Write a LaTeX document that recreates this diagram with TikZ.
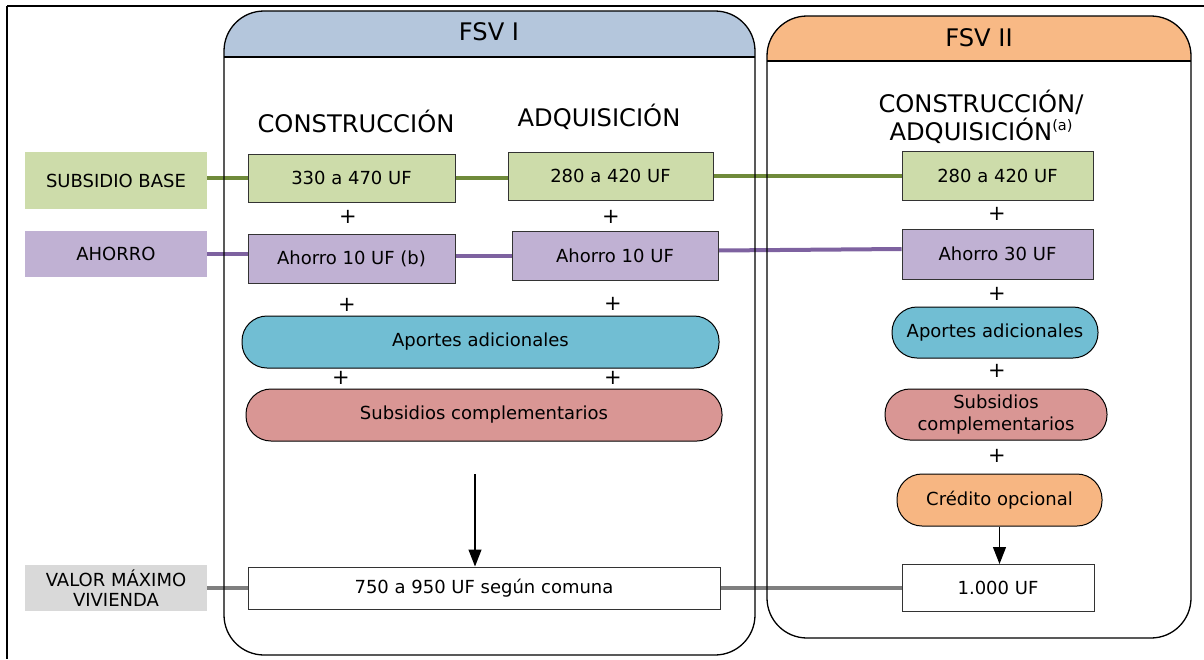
\documentclass[tikz,border=0pt]{standalone}
\usepackage{fontspec}
\setmainfont{DejaVu Sans}
\usetikzlibrary{arrows.meta,backgrounds}
\definecolor{hdrI}{HTML}{B4C6DC}
\definecolor{hdrII}{HTML}{F8B985}
\definecolor{gbox}{HTML}{CDDCAA}
\definecolor{pbox}{HTML}{C0B1D3}
\definecolor{abox}{HTML}{71BED3}
\definecolor{sbox}{HTML}{D99694}
\definecolor{obox}{HTML}{F7B682}
\definecolor{vbox}{HTML}{D9D9D9}
\definecolor{gline}{HTML}{6F8A3A}
\definecolor{pline}{HTML}{7E62A0}
\definecolor{vline}{HTML}{7F7F7F}
\tikzset{
  body/.style={font=\fontsize{18}{21}\selectfont},
  sq/.style={body, draw=black!80, line width=1pt, inner sep=0pt, align=center},
  pill/.style={sq, draw=black, rounded corners=25pt},
  lbl/.style={body, inner sep=0pt, align=center},
  conn/.style={line width=4pt},
  plus/.style={font=\fontsize{21}{24}\selectfont, inner sep=0pt},
  head/.style={font=\fontsize{24.2}{28.5}\selectfont, align=center, inner sep=0pt},
  panel/.style={line width=1.3pt, rounded corners=40pt},
  arr/.style={line width=1.2pt, -{Triangle[length=17pt,width=13pt]}},
}
\begin{document}
\begin{tikzpicture}[x=1pt,y=-1pt]
\useasboundingbox (0,0) rectangle (1204,659);
% outer frame
\coordinate (ftl) at (7,6);
\coordinate (ftr) at (1204,6);
\coordinate (fbl) at (7,659);
\draw[line width=2.5pt] (ftl) -- (ftr);
\draw[line width=2pt] (ftl) -- (fbl);
% panel headers
\begin{scope}
  \clip[rounded corners=40pt] (224,11) rectangle (755,655);
  \fill[hdrI] (224,11) rectangle (755,57);
\end{scope}
\begin{scope}
  \clip[rounded corners=40pt] (767,16) rectangle (1191,638);
  \fill[hdrII] (767,16) rectangle (1191,61);
\end{scope}
\draw[line width=1.3pt] (224,57) -- (755,57);
\draw[line width=1.3pt] (767,61) -- (1191,61);
\node[head] (tI) at (489,32) {FSV I};
\node[head] (tII) at (979,38) {FSV II};
% headings
\node[head] (hc) at (356,121) {CONSTRUCCIÓN};
\node[head] (ha) at (599,117) {ADQUISICIÓN};
\node[head] (hf) at (981,117) {CONSTRUCCIÓN/\\ADQUISICIÓN\raisebox{0.75ex}{\fontsize{14.5}{14.5}\selectfont (a)}};
% left labels
\node[lbl, fill=gbox, minimum width=182pt, minimum height=57pt] (sb) at (116,180.5) {SUBSIDIO BASE};
\node[lbl, fill=pbox, minimum width=182pt, minimum height=46pt] (ah) at (116,254) {AHORRO};
\node[lbl, fill=vbox, minimum width=182pt, minimum height=46pt, font=\fontsize{18}{20}\selectfont] (vm) at (116,588) {VALOR MÁXIMO\\VIVIENDA};
% FSV I boxes
\node[sq, fill=gbox, minimum width=207pt, minimum height=48pt] (c1) at (351.5,178) {330 a 470 UF};
\node[sq, fill=pbox, minimum width=207pt, minimum height=49pt] (c2) at (351.5,258.5) {Ahorro 10 UF (b)};
\node[sq, fill=gbox, minimum width=205pt, minimum height=48pt] (a1) at (610.5,176) {280 a 420 UF};
\node[sq, fill=pbox, minimum width=206pt, minimum height=49pt] (a2) at (615,255.5) {Ahorro 10 UF};
\node[pill, fill=abox, minimum width=477pt, minimum height=52pt] (ap1) at (480.5,342) {Aportes adicionales};
\node[pill, fill=sbox, minimum width=476pt, minimum height=52pt] (sc1) at (484,415) {Subsidios complementarios};
\node[sq, fill=white, minimum width=472pt, minimum height=42pt] (v1) at (484,588) {750 a 950 UF según comuna};
% FSV II boxes
\node[sq, fill=gbox, minimum width=191pt, minimum height=49pt] (f1) at (997.5,176) {280 a 420 UF};
\node[sq, fill=pbox, minimum width=191pt, minimum height=50pt] (f2) at (997.5,254) {Ahorro 30 UF};
\node[pill, fill=abox, minimum width=206pt, minimum height=51pt] (ap2) at (995,332.5) {Aportes adicionales};
\node[pill, fill=sbox, minimum width=222pt, minimum height=51pt, font=\fontsize{18}{22}\selectfont] (sc2) at (996,414.5) {Subsidios\\complementarios};
\node[pill, fill=obox, minimum width=205pt, minimum height=52pt] (cr) at (999.5,500) {Crédito opcional};
\node[sq, fill=white, minimum width=192pt, minimum height=47pt] (mx) at (998,588) {1.000 UF};
% plus signs
\node[plus] (p1) at (348,217) {+};
\node[plus] (p2) at (347,305) {+};
\node[plus] (p3) at (341,378) {+};
\node[plus] (p4) at (611,217) {+};
\node[plus] (p5) at (613,304) {+};
\node[plus] (p6) at (613,378) {+};
\node[plus] (p7) at (997,214) {+};
\node[plus] (p8) at (997,294) {+};
\node[plus] (p9) at (997,371) {+};
\node[plus] (p10) at (997,456) {+};
% connectors
\begin{scope}[on background layer]
\draw[conn, gline] (c1.west -| sb.east) -- (c1.west);
\draw[conn, gline] (c1.east) -- (c1.east -| a1.west);
\draw[conn, gline] (a1.east) -- (f1.west);
\draw[conn, pline] (ah.east) -- (ah.east -| c2.west);
\draw[conn, pline] (a2.west -| c2.east) -- (a2.west);
\draw[conn, pline] ([yshift=5pt]a2.east) -- ([yshift=5pt]f2.west);
\draw[conn, vline] (vm.east) -- (vm.east -| v1.west);
\draw[conn, vline] (v1.east) -- (mx.west);
\end{scope}
% panel outlines
\draw[panel] (224,11) rectangle (755,655);
\draw[panel] (767,16) rectangle (1191,638);
% arrows
\coordinate (as) at (475,474);
\draw[arr] (as) -- (as |- v1.north);
\draw[arr] (cr.south) -- (cr.south |- mx.north);
\end{tikzpicture}
\end{document}
